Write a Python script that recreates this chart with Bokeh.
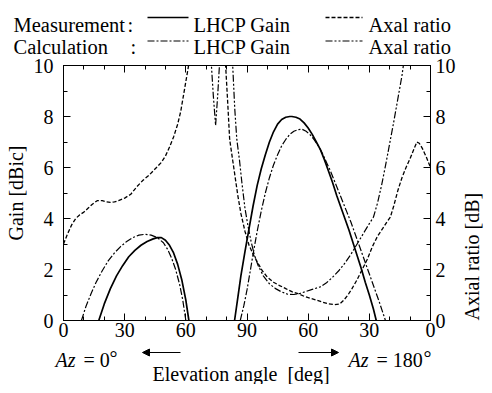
import math
from bokeh.plotting import figure
from bokeh.models import Range1d, LinearAxis, FixedTicker, Label, Arrow, NormalHead
from bokeh.layouts import column
from bokeh.embed import file_html
from bokeh.resources import INLINE

FONT = "Liberation Serif"
FS = "20px"
LFS = "20.5px"

# ---------------- data (x = position along axis: 0..90 for Az=0, 90..180 for Az=180) ----
tick_pos = [0, 30, 60, 90, 120, 150, 180]
tick_labels = ["0", "30", "60", "90", "60", "30", "0"]

meas_gain_l_x = [17.3, 20, 23, 26, 29, 32, 35, 38, 41, 44, 46, 48, 50, 52, 54, 56, 58, 60, 61.5]
meas_gain_l_y = [0, 0.65, 1.25, 1.75, 2.15, 2.5, 2.75, 2.95, 3.1, 3.2, 3.25, 3.25, 3.15, 2.95, 2.65, 2.2, 1.6, 0.8, 0]
meas_gain_r_x = [83.9, 85.5, 87, 89, 91, 93, 95, 97, 99, 101, 103, 105, 107, 109, 111, 112, 114, 116, 118, 120,
                 122, 124, 126, 128, 130, 132, 134, 136, 138, 140, 142, 144, 146, 148, 150, 152, 153.4]
meas_gain_r_y = [0, 0.9, 1.75, 2.7, 3.6, 4.5, 5.3, 5.95, 6.5, 7.0, 7.4, 7.7, 7.88, 7.97, 8.0, 8.0, 7.97, 7.9, 7.75, 7.55,
                 7.3, 7.0, 6.7, 6.3, 5.85, 5.4, 4.9, 4.45, 4.0, 3.55, 3.05, 2.55, 2.05, 1.5, 1.0, 0.45, 0]

calc_gain_l_x = [8.8, 11, 13.5, 16, 19, 22, 25, 28, 31, 34, 37, 40, 43, 46, 49, 51, 53, 55, 57, 58.5, 60]
calc_gain_l_y = [0, 0.55, 1.05, 1.5, 1.95, 2.35, 2.65, 2.9, 3.1, 3.25, 3.35, 3.38, 3.35, 3.25, 3.05, 2.8, 2.45, 2.0, 1.4, 0.8, 0]
calc_gain_r_x = [86.7, 88.5, 90, 91.5, 93.3, 95, 97, 99, 101, 103, 105, 107, 109, 111, 113, 115, 117, 119, 121, 123,
                 125, 127, 129, 131, 133, 135, 137, 139, 141, 143, 145, 147, 149, 151, 153, 155, 157.9]
calc_gain_r_y = [0, 0.6, 1.2, 1.9, 2.75, 3.5, 4.3, 5.0, 5.6, 6.1, 6.5, 6.85, 7.1, 7.3, 7.42, 7.48, 7.5, 7.42, 7.28, 7.08,
                 6.85, 6.55, 6.2, 5.85, 5.45, 5.05, 4.65, 4.25, 3.85, 3.4, 2.95, 2.5, 2.05, 1.6, 1.15, 0.7, 0]

meas_ar_l_x = [0, 2, 4, 6, 8, 10, 12, 14, 16.5, 19, 21, 23, 25, 27, 30, 33, 36, 39, 42, 45, 48, 50, 52, 54, 56, 57.5, 59, 60.5, 62]
meas_ar_l_y = [3.0, 3.4, 3.75, 4.0, 4.15, 4.25, 4.4, 4.55, 4.7, 4.7, 4.65, 4.63, 4.65, 4.7, 4.8, 4.95, 5.25, 5.5, 5.7, 5.95,
               6.2, 6.45, 6.8, 7.2, 7.7, 8.2, 8.9, 9.6, 10.3]
meas_ar_r_x = [79.3, 80.5, 81.5, 83.5, 85.5, 87, 89, 91, 93, 95, 97.5, 100, 103, 106, 109, 112, 115, 118, 121, 124, 127,
               130, 133, 135.5, 137.5, 139.5, 141.5, 144, 146.5, 149, 151.5, 154, 156.5, 158.5, 160.3, 162, 164, 166,
               168, 170, 172, 173.3, 174.5, 176, 178, 180]
meas_ar_r_y = [10.3, 8.6, 7.1, 6.0, 4.9, 4.2, 3.5, 2.95, 2.6, 2.3, 1.95, 1.7, 1.5, 1.37, 1.25, 1.13, 1.05, 0.95, 0.87, 0.8,
               0.72, 0.65, 0.62, 0.65, 0.8, 1.0, 1.25, 1.6, 2.0, 2.4, 2.9, 3.3, 3.6, 3.85, 4.05, 4.5, 5.1, 5.6,
               6.0, 6.35, 6.75, 7.0, 6.95, 6.75, 6.4, 6.0]

calc_ar_dip_x = [72.3, 73.5, 74.6, 75.6, 76.7]
calc_ar_dip_y = [10.3, 8.8, 7.65, 8.8, 10.3]
calc_ar_r_x = [82.8, 84, 85, 86.3, 87.5, 89, 90.5, 92, 93.5, 95.5, 98, 101, 104, 107, 110, 113, 116, 119, 122, 126, 129,
               132, 135, 138, 141, 144, 147, 150, 152, 154, 156, 158, 160, 162, 164, 166, 167.2]
calc_ar_r_y = [10.3, 8.3, 7.1, 6.3, 5.4, 4.4, 3.7, 3.1, 2.6, 2.15, 1.75, 1.44, 1.25, 1.12, 1.03, 1.02, 1.06, 1.14, 1.22,
               1.32, 1.48, 1.7, 1.95, 2.25, 2.6, 3.0, 3.4, 3.8, 4.05, 4.6, 5.3, 6.1, 6.95, 7.8, 8.7, 9.6, 10.3]

# ---------------- styles ----------------
ST_MG = dict(line_color="black", line_width=1.7)
ST_MA = dict(line_color="black", line_width=1.3, line_dash="4 2")
ST_CG = dict(line_color="black", line_width=1.2, line_dash="7 2 2 2")
ST_CA = dict(line_color="black", line_width=1.2, line_dash="7 2 2 2 2 2")

W = 492


def pixel_fig(w, h):
    f = figure(width=w, height=h, x_range=Range1d(0, w), y_range=Range1d(h, 0),
               toolbar_location=None, output_backend="svg", min_border=0,
               x_axis_location=None, y_axis_location=None, outline_line_color=None)
    f.grid.visible = False
    return f


def txt(f, x, y, s, size=FS, **kw):
    f.add_layout(Label(x=x, y=y, text=s, text_font=FONT, text_font_size=size,
                       text_color="black", text_baseline="alphabetic", **kw))


# ---------------- legend strip (top) ----------------
leg = pixel_fig(W, 56)
for name, base, ly, s1, s2, cx in [("Measurement", 24, 17, ST_MG, ST_MA, 127),
                                   ("Calculation", 46, 40.5, ST_CG, ST_CA, 130)]:
    txt(leg, 13, base, name, LFS)
    txt(leg, cx, base, ":", LFS)
    leg.line([147, 188], [ly, ly], **s1)
    txt(leg, 193, base, "LHCP Gain", LFS)
    leg.line([325, 362], [ly, ly], **s2)
    txt(leg, 368, base, "Axal ratio", LFS)

# ---------------- main plot ----------------
p = figure(frame_width=367, frame_height=255, x_range=Range1d(0, 180), y_range=Range1d(0, 10),
           toolbar_location=None, output_backend="svg",
           min_border_left=63, min_border_right=62, min_border_top=9, min_border_bottom=24)
p.extra_y_ranges = {"ar": Range1d(0, 10)}
p.grid.visible = False
p.outline_line_color = "black"
p.outline_line_width = 1


def style_axis(ax):
    ax.major_tick_in = 7
    ax.major_tick_out = 0
    ax.minor_tick_in = 4
    ax.minor_tick_out = 0
    ax.axis_line_color = "black"
    ax.major_tick_line_color = "black"
    ax.minor_tick_line_color = "black"
    ax.major_label_text_font = FONT
    ax.major_label_text_font_size = FS
    ax.major_label_text_color = "black"
    ax.axis_label_text_font = FONT
    ax.axis_label_text_font_size = FS
    ax.axis_label_text_font_style = "normal"
    ax.axis_label_text_color = "black"


xa = p.xaxis[0]
xa.ticker = FixedTicker(ticks=tick_pos, minor_ticks=list(range(0, 181, 10)))
xa.major_label_overrides = {pos: lab for pos, lab in zip(tick_pos, tick_labels)}
style_axis(xa)
xa.major_label_standoff = 2
xa.major_label_text_line_height = 1.0

ya = p.yaxis[0]
ya.ticker = FixedTicker(ticks=[0, 2, 4, 6, 8, 10], minor_ticks=list(range(0, 11)))
ya.axis_label = "Gain [dBic]"
style_axis(ya)
ya.major_label_standoff = 10
ya.axis_label_standoff = 4

ra = LinearAxis(y_range_name="ar", ticker=FixedTicker(ticks=[0, 2, 4, 6, 8, 10], minor_ticks=list(range(0, 11))),
                axis_label="Axial ratio [dB]")
style_axis(ra)
ra.major_label_standoff = 5
ra.axis_label_standoff = 13
ra.axis_label_orientation = math.pi / 2
ra.axis_label_align = "start"
p.add_layout(ra, "right")

ta = LinearAxis(ticker=FixedTicker(ticks=tick_pos, minor_ticks=list(range(0, 181, 10))))
style_axis(ta)
ta.major_label_overrides = {t: "" for t in tick_pos}
ta.major_label_standoff = 0
p.add_layout(ta, "above")

p.line(meas_gain_l_x, meas_gain_l_y, **ST_MG)
p.line(meas_gain_r_x, meas_gain_r_y, **ST_MG)
p.line(calc_gain_l_x, calc_gain_l_y, **ST_CG)
p.line(calc_gain_r_x, calc_gain_r_y, **ST_CG)
p.line(meas_ar_l_x, meas_ar_l_y, y_range_name="ar", **ST_MA)
p.line(meas_ar_r_x, meas_ar_r_y, y_range_name="ar", **ST_MA)
p.line(calc_ar_dip_x, calc_ar_dip_y, y_range_name="ar", **ST_CA)
p.line(calc_ar_r_x, calc_ar_r_y, y_range_name="ar", **ST_CA)

# ---------------- azimuth row + axis title (bottom) ----------------
bot = pixel_fig(W, 40)
ab = 15
txt(bot, 55, ab, "Az", text_font_style="italic")
txt(bot, 83, ab, "= 0")
txt(bot, 109, ab - 2, "°")
txt(bot, 348, ab, "Az", text_font_style="italic")
txt(bot, 376, ab, "= 180")
txt(bot, 423, ab - 2, "°")
for x0, x1 in [(180, 142), (298, 338)]:
    bot.add_layout(Arrow(x_start=x0, y_start=8, x_end=x1, y_end=8, line_width=1, line_color="black",
                         end=NormalHead(size=7, fill_color="black", line_color="black")))
txt(bot, 152, 29, "Elevation angle\u00a0 [deg]")

for f in (leg, p, bot):
    if "frame_align" in f.properties():
        f.frame_align = False

layout = column(leg, p, bot, spacing=0)
open("out.html", "w").write(file_html(layout, INLINE))
